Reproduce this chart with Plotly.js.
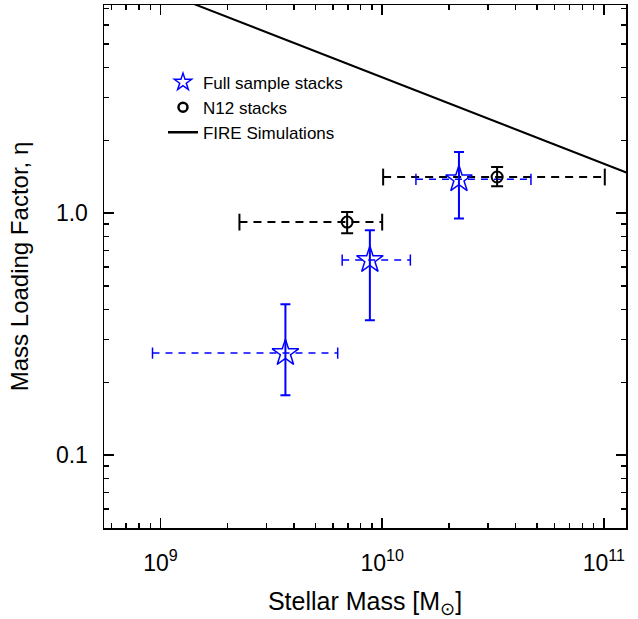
<!DOCTYPE html>
<html>
<head>
<meta charset="utf-8">
<script src="https://cdn.plot.ly/plotly-3.0.1.min.js"></script>
<style>html,body{margin:0;padding:0;background:#fff;}#chart{width:638px;height:619px;}</style>
</head>
<body>
<div id="chart"></div>
<script>
// Full sample stacks
const fullM     = [3.66e9, 8.8e9, 2.22e10];
const fullMlo   = [9.2e8, 6.6e9, 1.42e10];
const fullMhi   = [6.3e9, 1.34e10, 4.69e10];
const fullEta   = [0.264, 0.64, 1.38];
const fullEtaLo = [0.177, 0.361, 0.95];
const fullEtaHi = [0.42, 0.85, 1.79];
// N12 stacks
const n12M     = [6.95e9, 3.3e10];
const n12Mlo   = [2.27e9, 1.01e10];
const n12Mhi   = [1.0e10, 1.01e11];
const n12Eta   = [0.918, 1.41];
const n12EtaLo = [0.826, 1.29];
const n12EtaHi = [1.01, 1.55];
// FIRE simulations
const fireM   = [5e8, 2e11];
const fireEta = [10.6, 1.25];
// ticks
const xMajor = [1e9, 1e10, 1e11];
const xMajorText = ['10<sup>9</sup>', '10<sup>10</sup>', '10<sup>11</sup>'];
const yMajor = [0.1, 1.0];
const yMajorText = ['0.1', '1.0'];

function segs(lo, hi, y) {
  const xs = [], ys = [];
  for (let i = 0; i < y.length; i++) { xs.push(lo[i], hi[i], null); ys.push(y[i], y[i], null); }
  return {xs, ys};
}
function minors(a, b) {
  const out = [];
  for (let e = a; e <= b; e++) for (let k = 2; k <= 9; k++) out.push(k * Math.pow(10, e));
  return out;
}
const sub = (a, b) => a.map((v, i) => v - b[i]);

const fs = segs(fullMlo, fullMhi, fullEta);
const ns = segs(n12Mlo, n12Mhi, n12Eta);

const traces = [
  {x: ns.xs, y: ns.ys, mode: 'lines+markers', showlegend: false, hoverinfo: 'skip',
   line: {color: '#000', width: 2, dash: '8px,6px'},
   marker: {symbol: 'line-ns-open', size: 12, line: {color: '#000', width: 2}}},
  {x: fs.xs, y: fs.ys, mode: 'lines+markers', showlegend: false, hoverinfo: 'skip',
   line: {color: '#0000ff', width: 1.5, dash: '7px,6px'},
   marker: {symbol: 'line-ns-open', size: 8, line: {color: '#0000ff', width: 1.5}}},
  {x: fullM, y: fullEta, mode: 'markers', showlegend: false,
   marker: {symbol: 'star-open', size: 20, color: '#0000ff', line: {color: '#0000ff', width: 1.5}},
   error_y: {type: 'data', symmetric: false, array: sub(fullEtaHi, fullEta), arrayminus: sub(fullEta, fullEtaLo),
             color: '#0000ff', thickness: 2, width: 5}},
  {x: n12M, y: n12Eta, mode: 'markers', showlegend: false,
   marker: {symbol: 'circle-open', size: 11, color: '#000', line: {color: '#000', width: 2}},
   error_y: {type: 'data', symmetric: false, array: sub(n12EtaHi, n12Eta), arrayminus: sub(n12Eta, n12EtaLo),
             color: '#000', thickness: 2, width: 6}},
  {x: fireM, y: fireEta, mode: 'lines', showlegend: false, line: {color: '#000', width: 2}},
  // legend entries
  {x: [null], y: [null], mode: 'markers', name: 'Full sample stacks',
   marker: {symbol: 'star-open', size: 13, color: '#0000ff', line: {color: '#0000ff', width: 1.5}}},
  {x: [null], y: [null], mode: 'markers', name: 'N12 stacks',
   marker: {symbol: 'circle-open', size: 9, color: '#000', line: {color: '#000', width: 2.5}}},
  {x: [null], y: [null], mode: 'lines', name: 'FIRE Simulations', line: {color: '#000', width: 2.5}},
  // minor-tick carrier
  {x: [1e10], y: [1], xaxis: 'x2', yaxis: 'y2', mode: 'markers', marker: {opacity: 0}, showlegend: false, hoverinfo: 'skip'}
];

const xr = [8.745, 11.1];
const yr = [Math.log10(0.05), 0.86];
const font = {family: 'Liberation Sans, Arial, Helvetica, sans-serif', color: '#000'};

const layout = {
  width: 638, height: 619,
  margin: {l: 104, r: 12, t: 5, b: 91},
  paper_bgcolor: '#fff', plot_bgcolor: '#fff',
  font: Object.assign({size: 20}, font),
  showlegend: true,
  legend: {x: 0.113, y: 0.886, xanchor: 'left', yanchor: 'top', bgcolor: 'rgba(0,0,0,0)',
           font: Object.assign({size: 17}, font), itemwidth: 30, tracegroupgap: 0},
  xaxis: {type: 'log', range: xr, tickmode: 'array', tickvals: xMajor, ticktext: xMajorText,
          ticks: 'inside', ticklen: 10, tickwidth: 1.5, tickcolor: '#000', ticklabelstandoff: 14,
          showline: true, linecolor: '#000', linewidth: 1.5, mirror: 'ticks', showgrid: false, zeroline: false,
          tickfont: Object.assign({size: 23}, font),
          title: {text: 'Stellar Mass [M<sub>⊙</sub>]', font: Object.assign({size: 25}, font), standoff: 19}},
  yaxis: {type: 'log', range: yr, tickmode: 'array', tickvals: yMajor, ticktext: yMajorText,
          ticks: 'inside', ticklen: 10, tickwidth: 1.5, tickcolor: '#000', ticklabelstandoff: 10,
          showline: true, linecolor: '#000', linewidth: 1.5, mirror: 'ticks', showgrid: false, zeroline: false,
          tickfont: Object.assign({size: 23}, font),
          title: {text: 'Mass Loading Factor, η', font: Object.assign({size: 24}, font), standoff: 20}},
  xaxis2: {type: 'log', range: xr, overlaying: 'x', tickmode: 'array', tickvals: minors(8, 11), showticklabels: false,
           ticks: 'inside', ticklen: 5, tickwidth: 1.5, tickcolor: '#000', mirror: 'ticks', showline: false,
           showgrid: false, zeroline: false, anchor: 'y2'},
  yaxis2: {type: 'log', range: yr, overlaying: 'y', tickmode: 'array', tickvals: minors(-2, 0), showticklabels: false,
           ticks: 'inside', ticklen: 5, tickwidth: 1.5, tickcolor: '#000', mirror: 'ticks', showline: false,
           showgrid: false, zeroline: false, anchor: 'x2'}
};

Plotly.newPlot('chart', traces, layout, {staticPlot: true, displayModeBar: false});
</script>
</body>
</html>
